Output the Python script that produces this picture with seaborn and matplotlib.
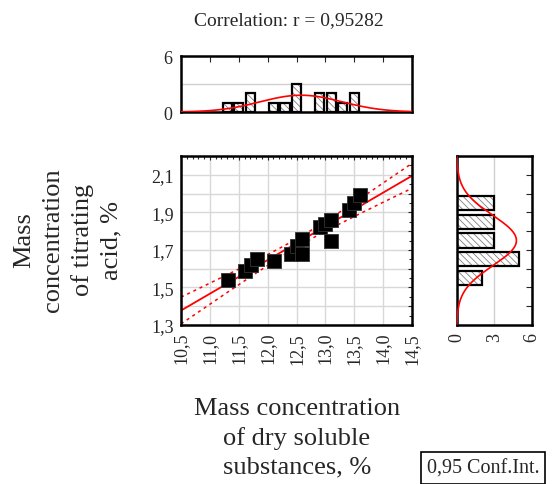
import numpy as np
import pandas as pd
import matplotlib
matplotlib.use("Agg")
import matplotlib.pyplot as plt
import seaborn as sns
from matplotlib.ticker import MultipleLocator, FixedLocator, FuncFormatter

# ---- data ----
dry_solids = [11.31, 11.61, 11.71, 11.81, 12.11, 12.40, 12.50, 12.60,
              12.60, 12.91, 13.00, 13.10, 13.10, 13.41, 13.50, 13.60]
titr_acid = [1.54, 1.59, 1.62, 1.65, 1.64, 1.68, 1.72, 1.68,
             1.76, 1.82, 1.84, 1.86, 1.75, 1.91, 1.95, 1.99]

top_bin_centers = [11.3, 11.5, 11.7, 12.1, 12.3, 12.5, 12.9, 13.1, 13.3, 13.5]
top_counts = [1, 1, 2, 1, 1, 3, 2, 2, 1, 2]
top_bin_width = 0.2

right_bin_centers = [1.55, 1.65, 1.75, 1.85, 1.95]
right_counts = [2, 5, 3, 3, 3]
right_bin_width = 0.1

title_text = "Correlation: r = 0,95282"
xlabel_text = "Mass concentration\nof dry soluble\nsubstances, %"
ylabel_text = "Mass\nconcentration\nof titrating\nacid, %"
legend_text = "0,95 Conf.Int."

df = pd.DataFrame({"x": dry_solids, "y": titr_acid})

sns.set_style("white")
plt.rcParams["font.family"] = ["Liberation Serif", "DejaVu Serif"]
plt.rcParams["hatch.linewidth"] = 0.6
plt.rcParams["hatch.color"] = "#808080"

W, H = 558, 485
fig = plt.figure(figsize=(W / 100, H / 100), dpi=100)

def box(l, t, r, b):
    return [l / W, 1 - b / H, (r - l) / W, (b - t) / H]

ax = fig.add_axes(box(181, 157, 412, 326))
axt = fig.add_axes(box(181, 57, 412, 113))
axr = fig.add_axes(box(456.7, 157, 531.7, 326))

comma = FuncFormatter(lambda v, p: f"{v:.1f}".replace(".", ","))
tick_fs = 13
XMIN, XMAX, YMIN, YMAX = 10.5, 14.5, 1.3, 2.2

# ---- main scatter ----
ax.set_xlim(XMIN, XMAX)
ax.set_ylim(YMIN, YMAX)
ax.xaxis.set_major_locator(MultipleLocator(0.5))
ax.xaxis.set_minor_locator(MultipleLocator(0.1))
ax.yaxis.set_minor_locator(MultipleLocator(0.05))
ax.grid(True, which="major", color="#d8d8d8", lw=1.0)
ax.set_axisbelow(True)

sns.regplot(data=df, x="x", y="y", ax=ax, scatter=False, ci=None, truncate=False,
            line_kws=dict(color="red", lw=1.3))
sns.scatterplot(data=df, x="x", y="y", ax=ax, marker="s", s=95, color="black",
                edgecolor="#333333", linewidth=0.6, zorder=3)

# confidence band of the regression
xa = np.asarray(dry_solids); ya = np.asarray(titr_acid)
n = len(xa)
b1, b0 = np.polyfit(xa, ya, 1)
res = ya - (b0 + b1 * xa)
se = np.sqrt(np.sum(res ** 2) / (n - 2))
sxx = np.sum((xa - xa.mean()) ** 2)
xx = np.linspace(XMIN, XMAX, 200)
fit = b0 + b1 * xx
half = 2.145 * se * np.sqrt(1 / n + (xx - xa.mean()) ** 2 / sxx)
for band in (fit + half, fit - half):
    ax.plot(xx, band, color="red", lw=1.1, ls=(0, (2, 2.5)))

ax.set_xlabel(""); ax.set_ylabel("")
ax.tick_params(which="both", direction="in", top=True, right=True, length=3,
               width=0.8, labelsize=tick_fs, pad=5)
ax.tick_params(which="minor", length=2)
yt = np.arange(1.3, 2.21, 0.1)
ax.set_yticks(yt)
ax.set_yticklabels([("%.1f" % v).replace(".", ",") if round(v * 10) % 2 == 1 else ""
                    for v in yt])
ax.xaxis.set_major_formatter(comma)
for lab in ax.get_xticklabels():
    lab.set_rotation(90)
for s in ax.spines.values():
    s.set_linewidth(1.8); s.set_color("black")

# ---- top histogram ----
axt.set_xlim(XMIN, XMAX)
axt.set_ylim(0, 6)
axt.bar(top_bin_centers, top_counts, width=top_bin_width * 0.8, color="white",
        hatch="\\\\\\\\\\", edgecolor="#808080", linewidth=0, zorder=2)
axt.bar(top_bin_centers, top_counts, width=top_bin_width * 0.8, fill=False,
        edgecolor="black", linewidth=1.6, zorder=3)
mx, sx = xa.mean(), xa.std(ddof=1)
cx = np.linspace(XMIN, XMAX, 300)
axt.plot(cx, n * top_bin_width * np.exp(-0.5 * ((cx - mx) / sx) ** 2) / (sx * np.sqrt(2 * np.pi)),
         color="red", lw=1.2, zorder=4)
axt.yaxis.set_major_locator(FixedLocator([0, 3, 6]))
axt.set_yticklabels(["0", "", "6"])
axt.yaxis.grid(True, color="#d0d0d0", lw=1.0)
axt.set_axisbelow(True)
axt.xaxis.set_major_locator(MultipleLocator(0.5))
axt.tick_params(axis="x", which="both", bottom=False, top=True, direction="in",
                labelbottom=False, length=4)
axt.tick_params(axis="y", direction="in", length=3, labelsize=tick_fs, pad=6)
for s in axt.spines.values():
    s.set_linewidth(1.8); s.set_color("black")

# ---- right histogram ----
axr.set_ylim(YMIN, YMAX)
axr.set_xlim(0, 6)
axr.barh(right_bin_centers, right_counts, height=right_bin_width * 0.76, color="white",
         hatch="\\\\\\\\\\", edgecolor="#808080", linewidth=0, zorder=2)
axr.barh(right_bin_centers, right_counts, height=right_bin_width * 0.76, fill=False,
         edgecolor="black", linewidth=1.6, zorder=3)
my, sy = ya.mean(), ya.std(ddof=1)
cy = np.linspace(YMIN, YMAX, 300)
axr.plot(n * right_bin_width * np.exp(-0.5 * ((cy - my) / sy) ** 2) / (sy * np.sqrt(2 * np.pi)), cy,
         color="red", lw=1.2, zorder=4)
axr.xaxis.set_major_locator(FixedLocator([0, 3, 6]))
axr.set_xticklabels(["0", "3", "6"], rotation=90)
axr.xaxis.grid(True, color="#d0d0d0", lw=1.0)
axr.set_axisbelow(True)
axr.yaxis.set_major_locator(MultipleLocator(0.1))
axr.tick_params(axis="y", left=False, right=True, direction="in", labelleft=False, length=4)
axr.tick_params(axis="x", direction="in", length=3, labelsize=tick_fs, pad=5)
for s in axr.spines.values():
    s.set_linewidth(1.8); s.set_color("black")

# ---- texts ----
fig.text(289 / W, 1 - 21 / H, title_text, ha="center", va="center", fontsize=14)
fig.text(297 / W, 1 - 438 / H, xlabel_text, ha="center", va="center", fontsize=19,
         linespacing=1.38)
fig.text(68 / W, 1 - 240 / H, ylabel_text, ha="center", va="center", fontsize=19,
         rotation=90, linespacing=1.38)
fig.text(483 / W, 1 - 469 / H, legend_text, ha="center", va="center", fontsize=14.5,
         bbox=dict(boxstyle="square,pad=0.3", fc="white", ec="black", lw=1.2))

fig.savefig("out.png", dpi=100)
